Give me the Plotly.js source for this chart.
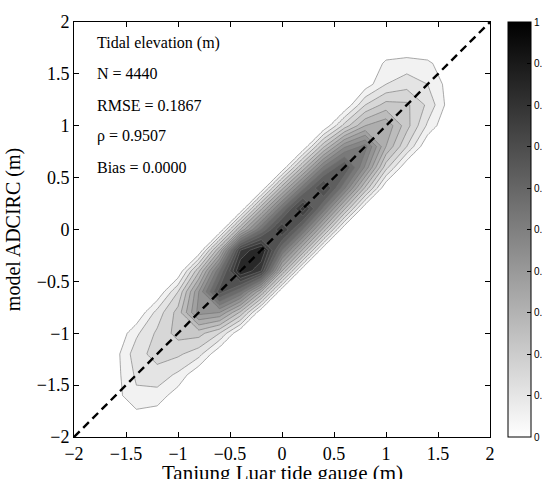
<!DOCTYPE html>
<html>
<head>
<meta charset="utf-8">
<script src="https://cdn.plot.ly/plotly-3.0.1.min.js"></script>
<style>html,body{margin:0;padding:0;background:#fff;}#chart{width:542px;height:479px;}</style>
</head>
<body>
<div id="chart"></div>
<script>
// ---- data ----
const AXIS_RANGE = [-2, 2];
const gridX = [-2.0,-1.8,-1.6,-1.4,-1.2,-1.0,-0.8,-0.6,-0.4,-0.2,0,0.2,0.4,0.6,0.8,1.0,1.2,1.4,1.6,1.8,2.0];
const gridY = [-2.0,-1.8,-1.6,-1.4,-1.2,-1.0,-0.8,-0.6,-0.4,-0.2,0,0.2,0.4,0.6,0.8,1.0,1.2,1.4,1.6,1.8,2.0];
// normalised point density (rows = gridY, columns = gridX)
const density = [
  [0,0,0,0,0,0,0,0,0,0,0,0,0,0,0,0,0,0,0,0,0],
  [0,0,.02,.03,.02,0,0,0,0,0,0,0,0,0,0,0,0,0,0,0,0],
  [0,0,.03,.09,.08,.02,0,0,0,0,0,0,0,0,0,0,0,0,0,0,0],
  [0,0,.03,.11,.13,.09,0,0,0,0,0,0,0,0,0,0,0,0,0,0,0],
  [0,0,.03,.13,.17,.16,.12,0,0,0,0,0,0,0,0,0,0,0,0,0,0],
  [0,0,0,.09,.16,.22,.22,.15,0,0,0,0,0,0,0,0,0,0,0,0,0],
  [0,0,0,0,.12,.22,.42,.40,.24,0,0,0,0,0,0,0,0,0,0,0,0],
  [0,0,0,0,0,.15,.40,.68,.55,.30,0,0,0,0,0,0,0,0,0,0,0],
  [0,0,0,0,0,0,.24,.55,.86,.75,.30,0,0,0,0,0,0,0,0,0,0],
  [0,0,0,0,0,0,0,.30,.75,.86,.55,.29,0,0,0,0,0,0,0,0,0],
  [0,0,0,0,0,0,0,0,.30,.55,.76,.55,.28,0,0,0,0,0,0,0,0],
  [0,0,0,0,0,0,0,0,0,.29,.55,.78,.53,.26,0,0,0,0,0,0,0],
  [0,0,0,0,0,0,0,0,0,0,.28,.53,.73,.51,.24,0,0,0,0,0,0],
  [0,0,0,0,0,0,0,0,0,0,0,.26,.51,.66,.44,.17,0,0,0,0,0],
  [0,0,0,0,0,0,0,0,0,0,0,0,.24,.44,.52,.30,.15,0,0,0,0],
  [0,0,0,0,0,0,0,0,0,0,0,0,0,.17,.30,.34,.22,.09,0,0,0],
  [0,0,0,0,0,0,0,0,0,0,0,0,0,0,.15,.22,.21,.14,.03,0,0],
  [0,0,0,0,0,0,0,0,0,0,0,0,0,0,.02,.10,.13,.10,.03,0,0],
  [0,0,0,0,0,0,0,0,0,0,0,0,0,0,0,.06,.07,.06,.02,0,0],
  [0,0,0,0,0,0,0,0,0,0,0,0,0,0,0,0,0,0,0,0,0],
  [0,0,0,0,0,0,0,0,0,0,0,0,0,0,0,0,0,0,0,0,0]
];
const contourLevels = {start: 0.05, end: 0.95, size: 0.05};
const statsLabels = ['Tidal elevation (m)', 'N = 4440', 'RMSE = 0.1867', 'ρ = 0.9507', 'Bias = 0.0000'];
const xTitle = 'Tanjung Luar tide gauge (m)';
const yTitle = 'model ADCIRC (m)';
const axisTicks = [-2, -1.5, -1, -0.5, 0, 0.5, 1, 1.5, 2];
const colorbarTicks = [0, 0.1, 0.2, 0.3, 0.4, 0.5, 0.6, 0.7, 0.8, 0.9, 1];
const colorRange = [0, 1];

// ---- style ----
const GRAY = [[0, '#ffffff'], [1, '#000000']];
const SERIF = 'Liberation Serif, Times New Roman, serif';
const SANS = 'Liberation Sans, Arial, sans-serif';

const traces = [
  {
    type: 'contour', x: gridX, y: gridY, z: density,
    colorscale: GRAY, autocontour: false,
    contours: {start: contourLevels.start, end: contourLevels.end, size: contourLevels.size, coloring: 'fill'},
    line: {color: '#707070', width: 0.6, smoothing: 0},
    showscale: false, hoverinfo: 'skip'
  },
  {
    type: 'scatter', mode: 'markers', x: [null, null], y: [null, null],
    hoverinfo: 'skip', showlegend: false,
    marker: {
      color: colorRange, cmin: colorRange[0], cmax: colorRange[1], colorscale: GRAY, showscale: true,
      colorbar: {
        x: 1.043, xanchor: 'left', xpad: 0, y: 0.5, yanchor: 'middle', ypad: 0,
        len: 1, lenmode: 'fraction', thickness: 23, thicknessmode: 'pixels',
        outlinewidth: 1, outlinecolor: '#000',
        tickmode: 'array', tickvals: colorbarTicks,
        ticks: 'inside', ticklen: 4, tickwidth: 1, tickcolor: '#000',
        tickfont: {family: SANS, size: 10, color: '#000'}
      }
    }
  }
];

function axis(titleText, standoff) {
  return {
    range: AXIS_RANGE, tickmode: 'array', tickvals: axisTicks,
    ticks: 'inside', ticklen: 5, tickwidth: 1, tickcolor: '#000',
    mirror: 'allticks', showline: true, linecolor: '#000', linewidth: 1,
    showgrid: false, zeroline: false,
    tickfont: {family: SERIF, size: 18, color: '#000'},
    title: {text: titleText, font: {family: SERIF, size: 20, color: '#000'}, standoff: standoff}
  };
}

const statNotes = statsLabels.map((t, i) => ({
  text: t, xref: 'x', yref: 'y', x: -1.8, y: 1.8 - 0.3 * i,
  xanchor: 'left', yanchor: 'middle', showarrow: false,
  font: {family: SERIF, size: 16, color: '#000'}
}));
// x-axis title sits low, partly below the frame edge as in the original
statNotes.push({
  text: xTitle, xref: 'paper', yref: 'paper', x: 0.5, y: -0.086,
  xanchor: 'center', yanchor: 'middle', showarrow: false,
  font: {family: SERIF, size: 21, color: '#000'}
});

const layout = {
  width: 542, height: 479,
  margin: {l: 74, r: 52, t: 22, b: 42, autoexpand: false},
  paper_bgcolor: '#fff', plot_bgcolor: '#fff',
  showlegend: false,
  xaxis: axis('', 0),
  yaxis: axis(yTitle, 10),
  shapes: [{
    type: 'line', xref: 'x', yref: 'y',
    x0: AXIS_RANGE[0], y0: AXIS_RANGE[0], x1: AXIS_RANGE[1], y1: AXIS_RANGE[1],
    line: {color: '#000', width: 2.4, dash: '8px,5px'}
  }],
  annotations: statNotes
};

Plotly.newPlot('chart', traces, layout, {displayModeBar: false, staticPlot: true});
</script>
</body>
</html>
